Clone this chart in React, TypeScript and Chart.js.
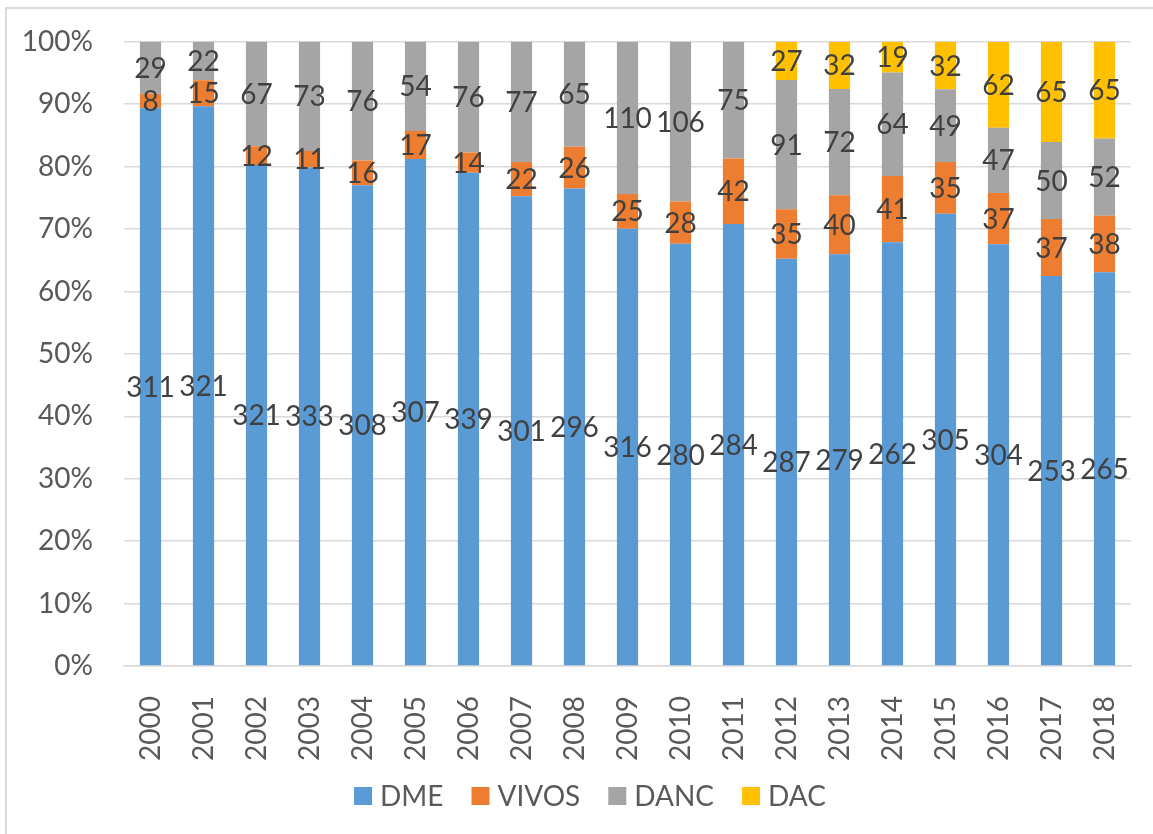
import React, { useEffect, useRef } from "react";
import { Chart, registerables } from "chart.js";

Chart.register(...registerables);

const years = ["2000","2001","2002","2003","2004","2005","2006","2007","2008","2009","2010","2011","2012","2013","2014","2015","2016","2017","2018"];
const dme = [311,321,321,333,308,307,339,301,296,316,280,284,287,279,262,305,304,253,265];
const vivos = [8,15,12,11,16,17,14,22,26,25,28,42,35,40,41,35,37,37,38];
const danc = [29,22,67,73,76,54,76,77,65,110,106,75,91,72,64,49,47,50,52];
const dac = [0,0,0,0,0,0,0,0,0,0,0,0,27,32,19,32,62,65,65];
const seriesNames = ["DME","VIVOS","DANC","DAC"];
const seriesColors = ["#5B9BD5","#ED7D31","#A5A5A5","#FFC000"];
const yTickStep = 10;

const FONT = "Lato, 'Open Sans', sans-serif";

export default function App() {
  const ref = useRef<HTMLCanvasElement | null>(null);

  useEffect(() => {
    const series = [dme, vivos, danc, dac];
    const totals = years.map((_, i) => series.reduce((s, a) => s + a[i], 0));
    const labelPlugin = {
      id: "segLabels",
      afterDatasetsDraw(chart: any) {
        const ctx = chart.ctx;
        ctx.save();
        ctx.font = `28px ${FONT}`;
        ctx.fillStyle = "#404040";
        ctx.textAlign = "center";
        ctx.textBaseline = "middle";
        chart.data.datasets.forEach((ds: any, di: number) => {
          const meta = chart.getDatasetMeta(di);
          meta.data.forEach((el: any, i: number) => {
            const raw = series[di][i];
            if (!raw) return;
            const p = el.getProps(["x", "y", "base"], true);
            ctx.fillText(String(raw), p.x, (p.y + p.base) / 2 + 1);
          });
        });
        ctx.restore();
      },
    };
    const legendPlugin = {
      id: "customLegend",
      afterDraw(chart: any) {
        const ctx = chart.ctx;
        ctx.save();
        ctx.font = `28px ${FONT}`;
        ctx.textBaseline = "middle";
        ctx.textAlign = "left";
        const box = 18, gap = 8, spacing = 28;
        const widths = seriesNames.map((n) => box + gap + ctx.measureText(n).width);
        const total = widths.reduce((a, b) => a + b, 0) + spacing * (seriesNames.length - 1);
        const cx = 590, cy = 802;
        let x = cx - total / 2;
        seriesNames.forEach((n, i) => {
          ctx.fillStyle = seriesColors[i];
          ctx.fillRect(x, cy - box / 2, box, box);
          ctx.fillStyle = "#595959";
          ctx.fillText(n, x + box + gap, cy + 1);
          x += widths[i] + spacing;
        });
        ctx.restore();
      },
    };
    const chart = new Chart(ref.current as HTMLCanvasElement, {
      type: "bar",
      data: {
        labels: years,
        datasets: series.map((arr, di) => ({
          label: seriesNames[di],
          data: arr.map((v, i) => (v / totals[i]) * 100),
          backgroundColor: seriesColors[di],
          borderWidth: 0,
          barPercentage: 0.4,
          categoryPercentage: 1,
        })),
      },
      options: {
        animation: false,
        responsive: true,
        maintainAspectRatio: false,
        layout: { padding: { left: 0, right: 45, top: 18, bottom: 68 } },
        plugins: {
          tooltip: { enabled: false },
          legend: { display: false },
        },
        scales: {
          x: {
            stacked: true,
            grid: { display: false, drawTicks: false },
            border: { display: true, color: "#D9D9D9", width: 1.5 },
            ticks: {
              color: "#595959",
              font: { family: FONT, size: 28 },
              maxRotation: 90,
              minRotation: 90,
              padding: 30,
            },
            afterFit: (scale: any) => {
              scale.height = 100;
            },
          },
          y: {
            stacked: true,
            min: 0,
            max: 100,
            grid: { color: "#D9D9D9", lineWidth: 1.5, drawTicks: false },
            border: { display: false },
            ticks: {
              stepSize: yTickStep,
              color: "#595959",
              font: { family: FONT, size: 28 },
              padding: 31,
              callback: (v: any) => v + "%",
            },
            afterFit: (scale: any) => {
              scale.width = 124;
            },
          },
        },
      },
      plugins: [labelPlugin, legendPlugin],
    });
    return () => chart.destroy();
  }, []);

  return (
    <div style={{ position: "fixed", left: 0, top: 0, width: 1153, height: 834, overflow: "hidden", background: "#fff" }}>
      <div style={{ position: "absolute", left: 5, top: 7, width: 1300, height: 1000, border: "2px solid #D9D9D9", boxSizing: "border-box" }} />
      <div style={{ position: "absolute", left: 0, top: -6, width: 1176, height: 840 }}>
        <canvas ref={ref} />
      </div>
    </div>
  );
}
